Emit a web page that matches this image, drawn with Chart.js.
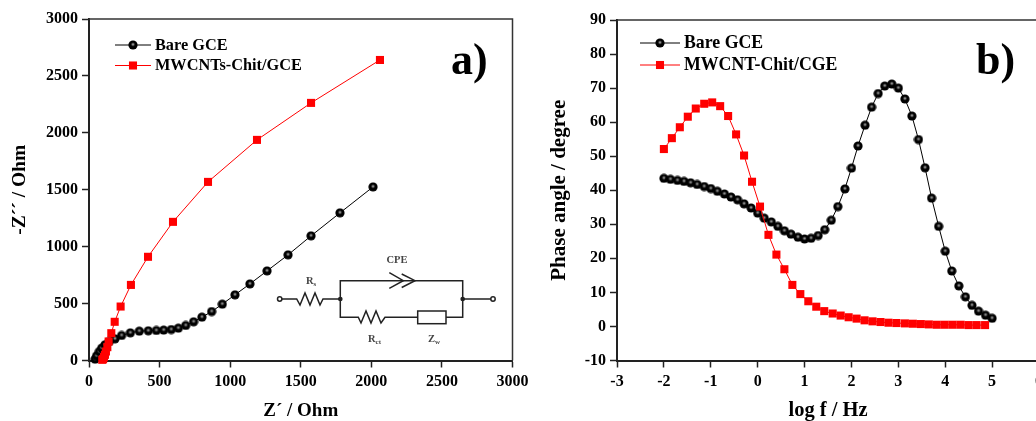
<!DOCTYPE html>
<html>
<head>
<meta charset="utf-8">
<script src="https://cdn.jsdelivr.net/npm/chart.js@4/dist/chart.umd.min.js"></script>
<style>
  html, body { margin: 0; width: 1036px; height: 421px; overflow: hidden; background: #fff; }
  canvas { position: absolute; top: 0; }
  #chart-a { left: 0; }
  #chart-b { left: 530px; }
  #circuito { position: absolute; left: 0; top: 0; pointer-events: none; }
  #circuito text { font-family: "Liberation Serif", serif; font-weight: bold; fill: #444; }
</style>
</head>
<body>
<canvas id="chart-a" width="570" height="421"></canvas>
<canvas id="chart-b" width="570" height="421"></canvas>
<svg id="circuito" width="530" height="421" fill="none" stroke="#222" stroke-width="1.5">
  <circle cx="279.7" cy="299" r="2.2" fill="#fff"/>
  <polyline points="282,299 296.7,299 300,305 305,293 310,305 315,293 320,305 323,299 340.3,299"/>
  <polyline points="340.3,299 340.3,280.7 462.7,280.7 462.7,299"/>
  <polyline points="389.3,272.7 403.3,280.7 389.3,288.3"/>
  <polyline points="401.7,274 415,280.7 401.7,287.5"/>
  <polyline points="340.3,299 340.3,317.3 358.3,317.3 361,323 366,311 371,323 376,311 381,323 385,317.3 417.7,317.3"/>
  <rect x="417.7" y="311" width="28.3" height="12.7" fill="#fff"/>
  <polyline points="446,317.3 462.7,317.3 462.7,299 490.8,299"/>
  <circle cx="493" cy="299" r="2.2" fill="#fff"/>
  <circle cx="340.3" cy="299" r="1.6" fill="#222"/>
  <circle cx="462.7" cy="299" r="1.6" fill="#222"/>
  <text x="397" y="263" font-size="10.5" text-anchor="middle" stroke="none">CPE</text>
  <text x="306" y="284" font-size="10.5" stroke="none">R<tspan font-size="7" dy="2">s</tspan></text>
  <text x="368" y="342" font-size="10.5" stroke="none">R<tspan font-size="7" dy="2">ct</tspan></text>
  <text x="428" y="342" font-size="10.5" stroke="none">Z<tspan font-size="7" dy="2">w</tspan></text>
</svg>
<script>
// Datos panel a) Nyquist
const bareZre = [43, 54, 73, 90, 113, 144, 184, 231, 293, 356, 420, 477, 529, 583, 633, 685, 741, 800, 869, 944, 1034, 1140, 1261, 1410, 1573, 1778, 2012];
const bareZim = [12, 41, 79, 109, 138, 167, 190, 220, 243, 258, 261, 264, 267, 272, 284, 308, 340, 381, 430, 495, 577, 673, 787, 928, 1095, 1297, 1525];
const mwcntZre = [94, 100, 106, 113, 120, 130, 139, 158, 182, 224, 297, 418, 595, 843, 1190, 1573, 2061];
const mwcntZim = [6, 12, 30, 50, 79, 117, 167, 240, 340, 474, 664, 911, 1218, 1569, 1938, 2263, 2640];

// Datos panel b) Bode
const bareLogF = [-2, -1.86, -1.71, -1.57, -1.43, -1.29, -1.14, -1, -0.86, -0.71, -0.57, -0.43, -0.29, -0.14, 0, 0.14, 0.29, 0.43, 0.57, 0.71, 0.86, 1, 1.14, 1.29, 1.43, 1.57, 1.71, 1.86, 2, 2.14, 2.29, 2.43, 2.57, 2.71, 2.86, 3, 3.14, 3.29, 3.43, 3.57, 3.71, 3.86, 4, 4.14, 4.29, 4.43, 4.57, 4.71, 4.86, 5];
const barePhase = [43.5, 43.2, 42.9, 42.6, 42.2, 41.7, 41.1, 40.5, 39.7, 38.9, 38.0, 37.2, 36.0, 34.8, 33.3, 31.8, 30.7, 29.4, 28.1, 27.1, 26.2, 25.7, 25.9, 26.7, 28.4, 31.2, 35.2, 40.4, 46.5, 53.0, 59.1, 64.4, 68.4, 70.6, 71.2, 70.0, 66.8, 61.8, 54.9, 46.6, 37.7, 29.4, 22.1, 16.3, 11.9, 8.7, 6.2, 4.5, 3.3, 2.4];
const mwcntLogF = [-2, -1.83, -1.66, -1.49, -1.32, -1.14, -0.97, -0.8, -0.63, -0.46, -0.29, -0.12, 0.05, 0.23, 0.4, 0.57, 0.74, 0.91, 1.08, 1.25, 1.42, 1.6, 1.77, 1.94, 2.11, 2.28, 2.45, 2.62, 2.79, 2.96, 3.14, 3.31, 3.48, 3.65, 3.82, 3.99, 4.16, 4.33, 4.5, 4.67, 4.85];
const mwcntPhase = [52.1, 55.3, 58.5, 61.6, 64, 65.4, 65.8, 64.7, 61.8, 56.4, 50.2, 42.5, 35.2, 26.9, 21.1, 16.8, 12.2, 9.5, 7.4, 5.8, 4.5, 3.8, 3.2, 2.7, 2.3, 1.8, 1.5, 1.3, 1.1, 1.0, 0.9, 0.8, 0.7, 0.6, 0.5, 0.5, 0.5, 0.5, 0.4, 0.4, 0.4];

const SERIF = '"Liberation Serif", "Times New Roman", serif';

// Esfera negra con brillo para los marcadores
function crearEsfera() {
  const c = document.createElement('canvas');
  c.width = 10; c.height = 10;
  const g = c.getContext('2d');
  g.fillStyle = '#000';
  g.beginPath();
  g.arc(5, 5, 4.6, 0, Math.PI * 2);
  g.fill();
  const brillo = g.createRadialGradient(5, 4.4, 0, 5, 4.4, 2.6);
  brillo.addColorStop(0, 'rgba(190,190,190,1)');
  brillo.addColorStop(0.5, 'rgba(90,90,90,0.8)');
  brillo.addColorStop(1, 'rgba(0,0,0,0)');
  g.fillStyle = brillo;
  g.fillRect(0, 0, 10, 10);
  return c;
}
const esfera = crearEsfera();

function aPuntos(xs, ys) {
  return xs.map((x, i) => ({ x: x, y: ys[i] }));
}

// Marco superior/derecho, leyenda y letra del panel
const adornos = {
  id: 'adornos',
  afterDatasetsDraw(chart, args, opts) {
    const { ctx, chartArea } = chart;
    ctx.save();
    ctx.strokeStyle = '#333';
    ctx.lineWidth = 1.5;
    ctx.beginPath();
    ctx.moveTo(chartArea.left, chartArea.top);
    ctx.lineTo(chartArea.right, chartArea.top);
    ctx.lineTo(chartArea.right, chartArea.bottom);
    ctx.stroke();

    ctx.textBaseline = 'middle';
    ctx.textAlign = 'left';
    ctx.font = `bold ${opts.leyendaSize}px ${SERIF}`;
    opts.leyenda.forEach((item, i) => {
      const ds = chart.data.datasets[i];
      const centro = (item.x1 + item.x2) / 2;
      ctx.strokeStyle = ds.borderColor;
      ctx.lineWidth = 1;
      ctx.beginPath();
      ctx.moveTo(item.x1, item.y);
      ctx.lineTo(item.x2, item.y);
      ctx.stroke();
      if (ds.pointStyle === 'rect') {
        const s = ds.pointRadius * Math.SQRT2;
        ctx.fillStyle = ds.borderColor;
        ctx.fillRect(centro - s / 2, item.y - s / 2, s, s);
      } else {
        ctx.drawImage(ds.pointStyle, centro - 5, item.y - 5);
      }
      ctx.fillStyle = '#000';
      ctx.fillText(ds.label, item.x2 + 4, item.y + 0.5);
    });

    ctx.fillStyle = '#000';
    ctx.font = `bold 44px ${SERIF}`;
    ctx.fillText(opts.letra.texto, opts.letra.x, opts.letra.y);
    ctx.restore();
  }
};

function crearGrafico(id, cfg) {
  const ejeBase = {
    type: 'linear',
    grid: { display: true, drawOnChartArea: false, drawTicks: true, tickLength: 7, tickWidth: 1.5, tickColor: '#222' },
    border: { display: true, color: '#222', width: 2 }
  };
  return new Chart(document.getElementById(id), {
    type: 'scatter',
    data: {
      datasets: [
        {
          label: 'Bare GCE', data: cfg.bare, showLine: true, borderColor: '#000000', borderWidth: 1,
          pointStyle: esfera, pointRadius: 5, pointHoverRadius: 5, order: 1, clip: false
        },
        {
          label: cfg.nombreRojo, data: cfg.mwcnt, showLine: true, borderColor: '#ff0000', borderWidth: 1,
          backgroundColor: '#ff0000', pointBackgroundColor: '#ff0000', pointBorderWidth: 0,
          pointStyle: 'rect', pointRadius: 5.7, pointHoverRadius: 5.7, order: 0, clip: false
        }
      ]
    },
    options: {
      responsive: false,
      animation: false,
      layout: { padding: { top: cfg.top, right: cfg.derecha, left: 0, bottom: 0 } },
      plugins: {
        legend: { display: false },
        tooltip: { enabled: false },
        adornos: { leyenda: cfg.leyenda, leyendaSize: cfg.leyendaSize, letra: cfg.letra }
      },
      scales: {
        x: {
          ...ejeBase,
          min: cfg.xMin, max: cfg.xMax,
          afterFit: (s) => { s.height = 60.5; },
          ticks: {
            stepSize: cfg.xStep, autoSkip: false, maxRotation: 0, padding: 5, color: '#000',
            callback: (v) => String(v),
            font: { family: SERIF, weight: 'bold', size: 16 }
          },
          title: {
            display: true, text: cfg.xTitulo, color: '#000', padding: 0,
            font: { family: SERIF, weight: 'bold', size: cfg.xTituloSize, lineHeight: 1 }
          }
        },
        y: {
          ...ejeBase,
          min: cfg.yMin, max: cfg.yMax,
          afterFit: (s) => { s.width = cfg.izquierda; },
          ticks: {
            stepSize: cfg.yStep, padding: 4, color: '#000',
            callback: (v) => String(v),
            font: { family: SERIF, weight: 'bold', size: 16 }
          },
          title: {
            display: true, text: cfg.yTitulo, color: '#000', padding: { top: cfg.yTituloX, bottom: 0 },
            font: { family: SERIF, weight: 'bold', size: cfg.yTituloSize, lineHeight: 1 }
          }
        }
      }
    },
    plugins: [adornos]
  });
}

crearGrafico('chart-a', {
  bare: aPuntos(bareZre, bareZim),
  mwcnt: aPuntos(mwcntZre, mwcntZim),
  nombreRojo: 'MWCNTs-Chit/GCE',
  xMin: 0, xMax: 3000, xStep: 500,
  yMin: 0, yMax: 3000, yStep: 500,
  xTitulo: 'Z´ / Ohm', yTitulo: '-Z´´ / Ohm',
  xTituloSize: 19, yTituloSize: 19.5, yTituloX: 10,
  top: 19, derecha: 57.5, izquierda: 89,
  leyendaSize: 16.3,
  leyenda: [{ x1: 115, x2: 151, y: 45 }, { x1: 115, x2: 151, y: 65.5 }],
  letra: { texto: 'a)', x: 451, y: 63 }
});

crearGrafico('chart-b', {
  bare: aPuntos(bareLogF, barePhase),
  mwcnt: aPuntos(mwcntLogF, mwcntPhase),
  nombreRojo: 'MWCNT-Chit/CGE',
  xMin: -3, xMax: 6, xStep: 1,
  yMin: -10, yMax: 90, yStep: 10,
  xTitulo: 'log f / Hz', yTitulo: 'Phase angle / degree',
  xTituloSize: 20.5, yTituloSize: 21, yTituloX: 19,
  top: 20, derecha: 61, izquierda: 87,
  leyendaSize: 17.8,
  leyenda: [{ x1: 110, x2: 150, y: 43 }, { x1: 110, x2: 150, y: 65 }],
  letra: { texto: 'b)', x: 446, y: 63 }
});
</script>
</body>
</html>
